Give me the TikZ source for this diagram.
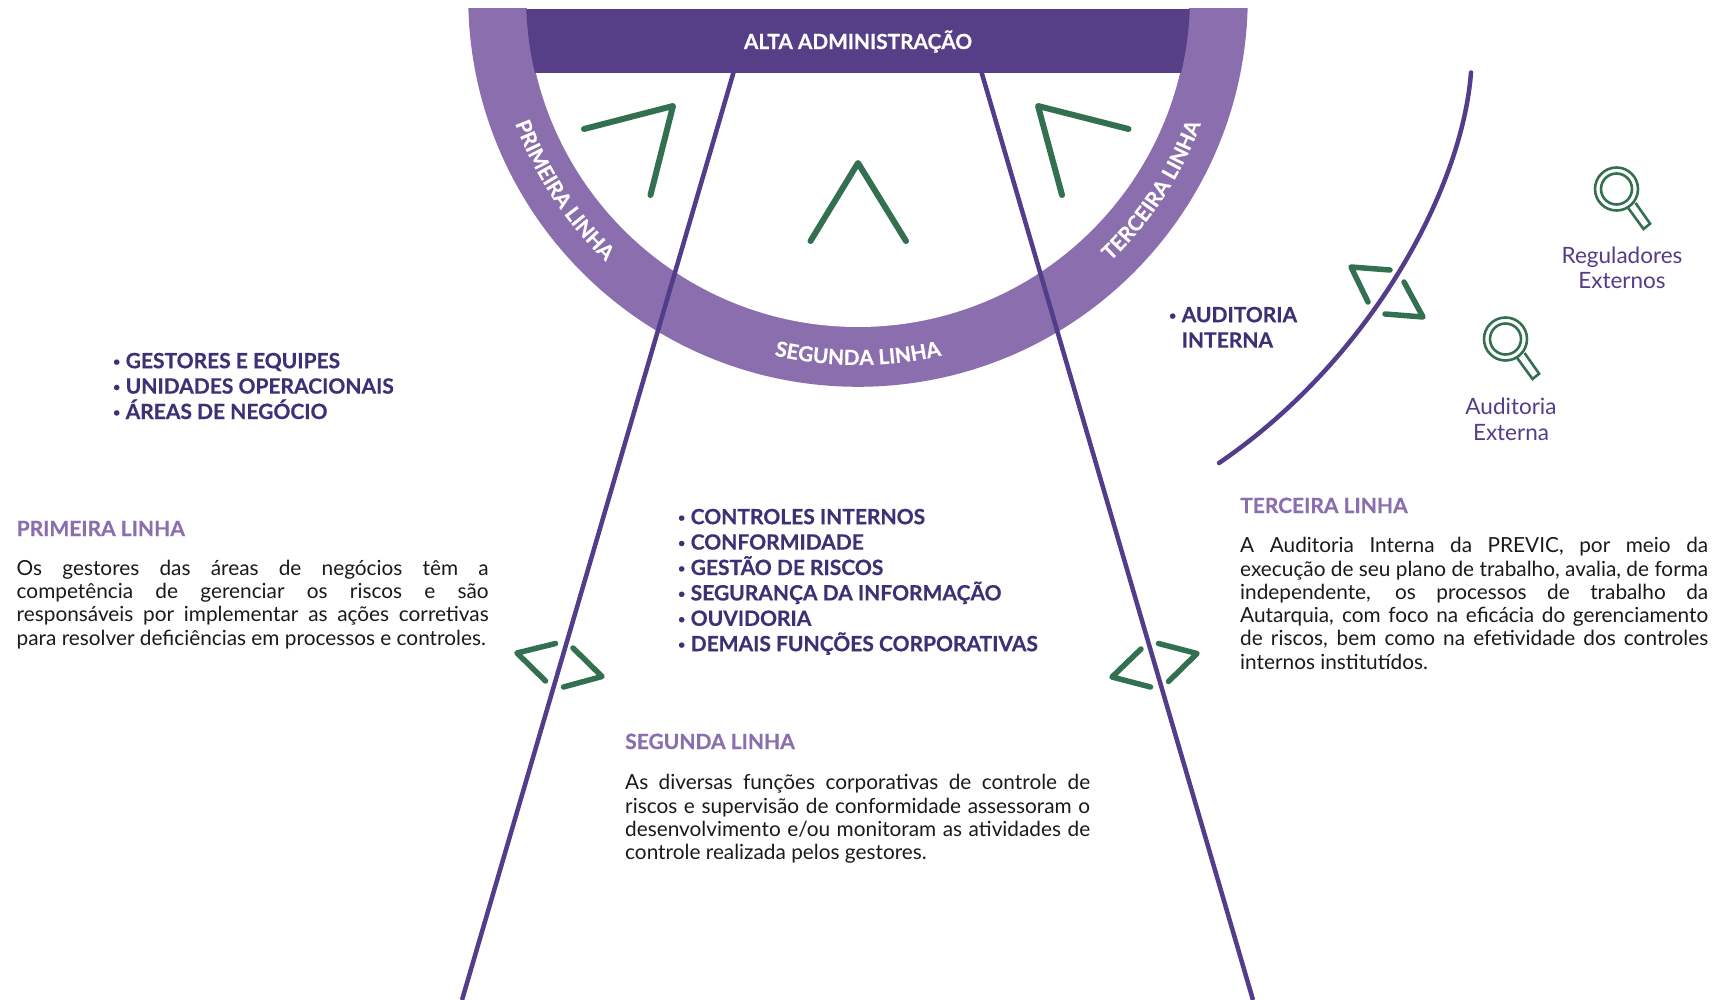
\documentclass[tikz,border=0pt]{standalone}
\usepackage{fontspec}
\setmainfont{Lato}[BoldFeatures={FakeBold=0.5}]
\usetikzlibrary{decorations.text}
\definecolor{band}{HTML}{8B6EAD}
\definecolor{topbar}{HTML}{563F87}
\definecolor{linec}{HTML}{533D8A}
\definecolor{listc}{HTML}{3D3176}
\definecolor{greenc}{HTML}{33704F}
\definecolor{bodyc}{HTML}{1A1A1A}
\tikzset{x=1pt,y=1pt,
 sep/.style={draw=linec,line width=4.5pt,line cap=round},
 chev/.style={draw=greenc,line width=6pt,line cap=round,line join=round},
 chevs/.style={draw=greenc,line width=5.5pt,line cap=round,line join=round},
 lst/.style={anchor=north west,inner sep=0pt,align=left,text=listc,font=\fontsize{21}{25.4}\selectfont\bfseries},
 head/.style={anchor=base west,inner sep=0pt,text=band,font=\fontsize{21}{24}\selectfont\bfseries},
 para/.style={anchor=north west,inner sep=0pt,align=justify,text=bodyc,font=\fontsize{20.8}{23.3}\selectfont},
 ext/.style={anchor=base,inner sep=0pt,align=center,text=linec,font=\fontsize{22.5}{25.4}\selectfont},
 mag/.style={draw=greenc,line width=2.6pt},
 arctext/.style={decorate,decoration={text along path,text align=center,text color=white,
   text={|\fontsize{20.8}{22}\selectfont\bfseries|#1}}}
}
\newcommand{\rl}{\rule{0pt}{16pt}}
\newcommand{\bu}{\makebox[12.5pt][l]{\fontsize{12}{12}\selectfont\raisebox{2.5pt}{•}}}
\newcommand{\magnifier}[2]{%
 \begin{scope}[shift={(#1,#2)}]
  \draw[mag] (0,0) circle (21.5);
  \draw[mag] (0,0) circle (15.5);
  \draw[mag,line join=miter] (11.7,-19) -- (27,-40) -- (33.6,-34.7) -- (19,-14);
 \end{scope}}
\begin{document}
\begin{tikzpicture}
\useasboundingbox (0,0) rectangle (1722,-1000);
% ring
\begin{scope}
 \clip (400,-9) rectangle (1300,-500);
 \fill[band] (858,3) circle (389.8);
 \fill[white] (858,4) circle (331);
 \begin{scope}
  \clip (858,4) circle (332);
  \fill[topbar] (500,-9) rectangle (1220,-73);
 \end{scope}
\end{scope}
\node[text=white,inner sep=0pt,font=\fontsize{20.8}{24}\selectfont\bfseries] (alta) at (858,-41.5) {ALTA ADMINISTRAÇÃO};
% arc texts
\path[arctext={PRIMEIRA LINHA}] (858,3) ++(190.3:365.5) arc[start angle=190.3,end angle=236.3,radius=365.5];
\path[arctext={SEGUNDA LINHA}] (858,3) ++(245:368) arc[start angle=245,end angle=295,radius=368];
\path[arctext={TERCEIRA LINHA}] (858,3) ++(303.7:365.5) arc[start angle=303.7,end angle=349.7,radius=365.5];
% separators
\draw[sep,line cap=butt] (733.5,-72.5) -- (462,-1000);
\draw[sep,line cap=butt] (981.6,-72.5) -- (1253,-1000);
\draw[sep] (1471,-72.5) .. controls (1462,-190) and (1370,-360) .. (1219,-463);
% chevrons
\draw[chev] (810.5,-241) -- (858,-163) -- (906,-241);
\draw[chev] (584,-129) -- (673,-106) -- (650.5,-195);
\draw[chev] (1128.5,-129) -- (1038,-106) -- (1062,-195);
\draw[chevs] (545.5,-681) -- (517,-653) -- (555.5,-643.5);
\draw[chevs] (573,-648) -- (602,-676.5) -- (563.5,-687);
\draw[chevs] (1150.5,-687) -- (1112,-677) -- (1141,-649);
\draw[chevs] (1158.5,-643.5) -- (1197,-653.5) -- (1168.5,-681.5);
\draw[chevs] (1390,-270) -- (1351,-267) -- (1368,-302);
\draw[chevs] (1404,-282) -- (1423,-317) -- (1385,-314);
% magnifiers
\magnifier{1616.5}{-189}
\magnifier{1505.5}{-339}
\node[ext] (reg) at (1622,-289) {Reguladores\\Externos};
\node[ext] (audext) at (1511,-440) {Auditoria\\Externa};
% lists
\node[lst] (l1) at (113,-352) {\rl\bu GESTORES E EQUIPES\\\bu UNIDADES OPERACIONAIS\\\bu ÁREAS DE NEGÓCIO};
\node[lst] (l2) at (678,-508) {\rl\bu CONTROLES INTERNOS\\\bu CONFORMIDADE\\\bu GESTÃO DE RISCOS\\\bu SEGURANÇA DA INFORMAÇÃO\\\bu OUVIDORIA\\\bu DEMAIS FUNÇÕES CORPORATIVAS};
\node[lst] (l3) at (1169,-306) {\rl\bu AUDITORIA\\\hspace*{12.5pt}INTERNA};
% headings and paragraphs
\node[head] (h1) at (16.5,-536) {PRIMEIRA LINHA};
\node[para,text width=472pt] (p1) at (16.5,-559) {\rl Os gestores das áreas de negócios têm a\linebreak competência de gerenciar os riscos e são\linebreak responsáveis por implementar as ações corretivas\linebreak para resolver deficiências em processos e controles.};
\node[head] (h2) at (625,-749) {SEGUNDA LINHA};
\node[para,text width=465pt] (p2) at (625,-773.5) {\rl As diversas funções corporativas de controle de\linebreak riscos e supervisão de conformidade assessoram o\linebreak desenvolvimento e/ou monitoram as atividades de\linebreak controle realizada pelos gestores.};
\node[head] (h3) at (1240,-513) {TERCEIRA LINHA};
\node[para,text width=468pt] (p3) at (1240,-536.5) {\rl A Auditoria Interna da PREVIC, por meio da\linebreak execução de seu plano de trabalho, avalia, de forma\linebreak independente, os processos de trabalho da\linebreak Autarquia, com foco na eficácia do gerenciamento\linebreak de riscos, bem como na efetividade dos controles\linebreak internos institutídos.};
\end{tikzpicture}
\end{document}
